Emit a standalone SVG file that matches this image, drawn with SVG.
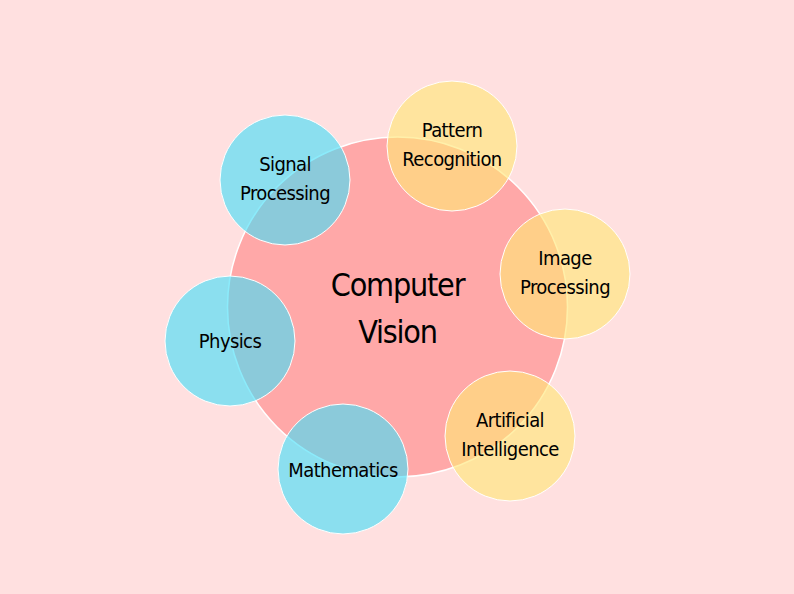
<svg xmlns="http://www.w3.org/2000/svg" width="794" height="594" viewBox="0 0 794 594">
<style>
.bg{fill:#ffe0e0}
.core{fill:#ffa8a8;stroke:#ffffff;stroke-width:1.5}
.blue{fill:#44def9;fill-opacity:0.62;stroke:#ffffff;stroke-width:1}
.yel{fill:#ffe676;fill-opacity:0.62;stroke:#ffffff;stroke-width:1}
text{font-family:"Liberation Sans Narrow","DejaVu Sans Condensed","Liberation Sans",sans-serif;fill:#000;text-anchor:middle}
.s{font-size:20px;letter-spacing:-0.6px}
.c{font-size:32px;letter-spacing:-1.2px}
</style>
<rect class="bg" x="0" y="0" width="794" height="594"/>
<g id="connectors"/>
<g id="computer-vision">
<circle class="core" cx="397.5" cy="307" r="170"/>
<text class="c" x="397.5" y="296">Computer</text>
<text class="c" x="397.5" y="343">Vision</text>
</g>
<g id="signal-processing">
<circle class="blue" cx="285" cy="180" r="65"/>
<text class="s" x="285" y="171">Signal</text>
<text class="s" x="285" y="200">Processing</text>
</g>
<g id="pattern-recognition">
<circle class="yel" cx="452" cy="146" r="65"/>
<text class="s" x="452" y="137">Pattern</text>
<text class="s" x="452" y="166">Recognition</text>
</g>
<g id="image-processing">
<circle class="yel" cx="565" cy="274" r="65"/>
<text class="s" x="565" y="265">Image</text>
<text class="s" x="565" y="294">Processing</text>
</g>
<g id="artificial-intelligence">
<circle class="yel" cx="510" cy="436" r="65"/>
<text class="s" x="510" y="427">Artificial</text>
<text class="s" x="510" y="456">Intelligence</text>
</g>
<g id="mathematics">
<circle class="blue" cx="343" cy="469" r="65"/>
<text class="s" x="343" y="477">Mathematics</text>
</g>
<g id="physics">
<circle class="blue" cx="230" cy="341" r="65"/>
<text class="s" x="230" y="348">Physics</text>
</g>
</svg>
